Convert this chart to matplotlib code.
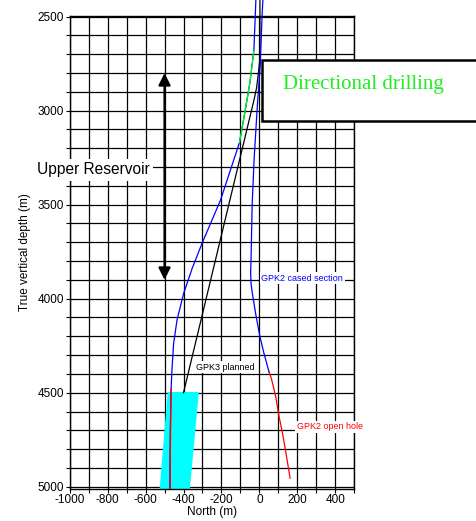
import matplotlib.pyplot as plt
import matplotlib.patches as patches
from matplotlib.ticker import MultipleLocator

plt.rcParams['font.family'] = ['Liberation Sans', 'DejaVu Sans']
plt.rcParams['axes.unicode_minus'] = False

# ---- data (north offset in m, true vertical depth in m) ----
gpk2_cased_north = [19, 14, 5, -11, -28, -38, -44, -46, -44, -37, -20, 3, 24, 51]
gpk2_cased_depth = [2400, 2500, 2750, 2977, 3263, 3500, 3794, 3860, 3920, 3971, 4078, 4202, 4290, 4390]

gpk2_open_north = [51, 62, 72, 80, 86, 104, 122, 139, 162]
gpk2_open_depth = [4390, 4420, 4460, 4495, 4521, 4628, 4716, 4814, 4955]

gpk3_north = [-18, -29, -50, -75, -105, -205, -302, -354, -399, -434, -452, -461, -466, -470, -472]
gpk3_depth = [2400, 2680, 2850, 3000, 3170, 3476, 3705, 3838, 3971, 4113, 4237, 4379, 4500, 4750, 5010]

gpk3_dir_north = [-29, -50, -75, -105]
gpk3_dir_depth = [2680, 2850, 3000, 3170]

gpk3_open_north = [-466, -468, -470, -470]
gpk3_open_depth = [4480, 4650, 4850, 5010]

planned_north = [3, 3, -5, -15, -30, -400]
planned_depth = [2400, 2720, 2800, 2880, 2950, 4500]

target_north = [-480, -323, -370, -522]
target_depth = [4500, 4500, 5010, 5010]

reservoir_north = -500
reservoir_top = 2800
reservoir_bottom = 3900

# ---- figure ----
fig = plt.figure(figsize=(4.77, 5.21), dpi=100)
ax = fig.add_axes([0.1461, 0.0622, 0.5965, 0.9076])

ax.set_xlim(-1000, 500)
ax.set_ylim(5010, 2495)

ax.xaxis.set_major_locator(MultipleLocator(200))
ax.xaxis.set_minor_locator(MultipleLocator(100))
ax.yaxis.set_major_locator(MultipleLocator(500))
ax.yaxis.set_minor_locator(MultipleLocator(100))
ax.grid(which='both', color='black', linewidth=0.9)
ax.set_axisbelow(True)
ax.tick_params(which='both', direction='out', length=3, width=0.8, labelsize=8.5, pad=1)
for s in ax.spines.values():
    s.set_linewidth(1.0)

# target zone
ax.fill(target_north, target_depth, color='#00ffff', zorder=2)

# wells
ax.plot(planned_north, planned_depth, color='black', lw=0.9, clip_on=False, zorder=3)
ax.plot(gpk2_cased_north, gpk2_cased_depth, color='#0000ff', lw=0.9, clip_on=False, zorder=3)
ax.plot(gpk2_open_north, gpk2_open_depth, color='#ff0000', lw=0.9, zorder=3)
ax.plot(gpk3_north, gpk3_depth, color='#0000ff', lw=0.9, clip_on=False, zorder=3)
ax.plot(gpk3_dir_north, gpk3_dir_depth, color='#00ff00', lw=0.9, zorder=4)
ax.plot(gpk3_open_north, gpk3_open_depth, color='#ff0000', lw=1.0, zorder=4)

# reservoir arrow
ax.annotate('', xy=(reservoir_north, reservoir_top), xytext=(reservoir_north, reservoir_bottom),
            arrowprops=dict(arrowstyle='<|-|>', color='black', lw=1.6, mutation_scale=18,
                            shrinkA=0, shrinkB=0), zorder=5)
ax.text(-1173, 3315, 'Upper Reservoir', fontsize=11.2, ha='left', va='center', clip_on=False,
        bbox=dict(facecolor='white', edgecolor='none', pad=2.5), zorder=6)

# curve labels
box = dict(facecolor='white', edgecolor='none', pad=1.2)
ax.text(10, 3891, 'GPK2 cased section', color='#0000ff', fontsize=6.5, ha='left', va='center',
        bbox=box, zorder=6)
ax.text(-332, 4365, 'GPK3 planned', color='black', fontsize=6.5, ha='left', va='center',
        bbox=box, zorder=6)
ax.text(196, 4681, 'GPK2 open hole', color='#ff0000', fontsize=6.5, ha='left', va='center',
        bbox=box, zorder=6, clip_on=False)

ax.set_xlabel('North (m)', fontsize=8.5, labelpad=0)
ax.set_ylabel('True vertical depth (m)', fontsize=8.5, labelpad=5)

# directional drilling box
rect = patches.Rectangle((262 / 477, 1 - 121 / 521), 0.5, 61 / 521, transform=fig.transFigure,
                         facecolor='white', edgecolor='black', lw=1.8, zorder=10)
fig.patches.append(rect)
fig.text(283 / 477, 1 - 84 / 521, 'Directional drilling', color='#22ee22', fontsize=15,
         family=['Liberation Serif', 'DejaVu Serif'], ha='left', va='center', zorder=11)

plt.savefig('out.png', dpi=100)
